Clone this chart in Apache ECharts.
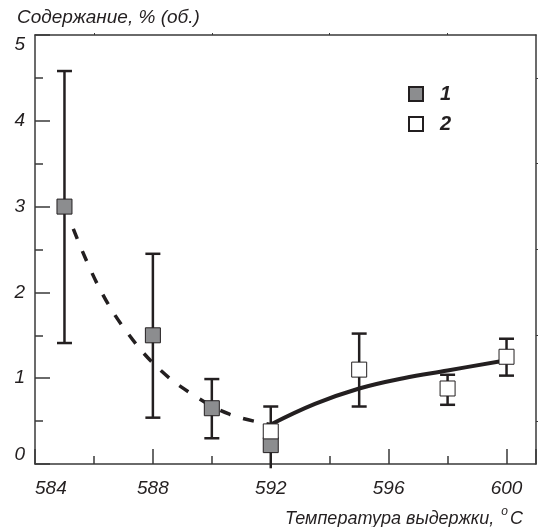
<!DOCTYPE html>
<html>
<head>
<meta charset="utf-8">
<script src="https://cdn.jsdelivr.net/npm/echarts@6/dist/echarts.min.js"></script>
<style>
    html, body { margin: 0; padding: 0; background: #fff; }
    #chart { width: 541px; height: 527px; }
</style>
</head>
<body>
<div id="chart"></div>
<script>
// series 1 (grey squares)
const temp1 = [585, 588, 590, 592]
const val1 = [3.0, 1.5, 0.65, 0.22]
const low1 = [1.41, 0.54, 0.30, null]
const high1 = [4.58, 2.45, 0.99, null]
// series 2 (open squares)
const temp2 = [592, 595, 598, 600]
const val2 = [0.38, 1.10, 0.88, 1.25]
const low2 = [-0.05, 0.67, 0.69, 1.03]
const high2 = [0.67, 1.52, 1.04, 1.46]
// fitted curves
const dashCurve = [[585.3, 2.74], [586.2, 2.04], [587.2, 1.50], [588.3, 1.08], [589.4, 0.80], [590.6, 0.58], [592.0, 0.46]]
const solidCurve = [[592.0, 0.46], [593.5, 0.70], [595.0, 0.88], [596.5, 1.00], [598.0, 1.09], [600.0, 1.21]]
const xTickLabels = [584, 588, 592, 596, 600]

const ink = '#231f20'
const axisColor = '#3a3a3a'
const font = '"Liberation Sans", Arial, sans-serif'

function pairs (xs, ys) {
    return xs.map((x, i) => [x, ys[i]])
}
function errData (xs, lo, hi) {
    let out = []
    xs.forEach((x, i) => {
        if (lo[i] !== null) out.push([x, lo[i], hi[i]])
    })
    return out
}
function renderErr (params, api) {
    const x = api.value(0)
    const lo = api.value(1)
    const hi = api.value(2)
    const top = api.coord([x, hi])
    const bot = api.coord([x, lo])
    const half = 7.5
    const style = { stroke: ink, lineWidth: 2.5 }
    let children = [
        { type: 'line', shape: { x1: top[0], y1: top[1], x2: bot[0], y2: bot[1] }, style: style },
        { type: 'line', shape: { x1: top[0] - half, y1: top[1], x2: top[0] + half, y2: top[1] }, style: style }
    ]
    if (lo >= 0) {
        children.push({ type: 'line', shape: { x1: bot[0] - half, y1: bot[1], x2: bot[0] + half, y2: bot[1] }, style: style })
    }
    return { type: 'group', children: children }
}

const chart = echarts.init(document.getElementById('chart'))
const labelStyle = { fontFamily: font, fontStyle: 'italic', fontSize: 19, color: ink }
const xBase = { type: 'value', min: 584, max: 601, splitLine: { show: false } }

chart.setOption({
    animation: false,
    title: [
        {
            text: 'Содержание, % (об.)',
            left: 12, top: 3,
            textStyle: { fontFamily: font, fontStyle: 'italic', fontWeight: 'normal', fontSize: 19, color: ink }
        },
        {
            text: 'Температура выдержки, {sup|o}C',
            right: 13, top: 501,
            textStyle: {
                fontFamily: font, fontStyle: 'italic', fontWeight: 'normal', fontSize: 18, color: ink,
                rich: { sup: { fontFamily: font, fontStyle: 'italic', fontSize: 12, color: ink, padding: [0, 2, 13, 2] } }
            }
        }
    ],
    legend: {
        data: ['1', '2'],
        orient: 'vertical',
        left: 403, top: 79,
        itemWidth: 14, itemHeight: 14,
        itemGap: 10,
        icon: 'rect',
        textStyle: { fontFamily: font, fontStyle: 'italic', fontWeight: 'bold', fontSize: 20, color: ink, padding: [0, 0, 0, 12] }
    },
    grid: { left: 35, right: 5, top: 35, bottom: 63 },
    xAxis: [
        Object.assign({}, xBase, {
            position: 'bottom',
            interval: 2,
            axisLine: { lineStyle: { color: axisColor, width: 1.5 } },
            axisTick: { inside: true, length: 8, lineStyle: { color: axisColor, width: 1.5 } },
            axisLabel: Object.assign({}, labelStyle, {
                margin: 15,
                alignMinLabel: 'left',
                formatter: v => xTickLabels.indexOf(v) >= 0 ? String(v) : ''
            })
        }),
        Object.assign({}, xBase, {
            position: 'bottom',
            interval: 4,
            axisLine: { show: false },
            axisTick: { inside: true, length: 15, lineStyle: { color: axisColor, width: 1.5 } },
            axisLabel: { show: false }
        }),
        Object.assign({}, xBase, {
            position: 'top',
            interval: 4,
            axisLine: { lineStyle: { color: axisColor, width: 1.5 } },
            axisTick: { show: false },
            minorTick: { show: true, splitNumber: 2, length: 2, lineStyle: { color: axisColor, width: 1 } },
            axisLabel: { show: false }
        })
    ],
    yAxis: [
        {
            type: 'value', min: 0, max: 5, interval: 1,
            position: 'left',
            splitLine: { show: false },
            axisLine: { show: true, lineStyle: { color: axisColor, width: 1.5 } },
            axisTick: { show: true, inside: true, length: 15, lineStyle: { color: axisColor, width: 1.5 } },
            minorTick: { show: true, splitNumber: 2, length: 8, lineStyle: { color: axisColor, width: 1.5 } },
            axisLabel: Object.assign({}, labelStyle, {
                margin: 10,
                verticalAlignMaxLabel: 'top',
                verticalAlignMinLabel: 'bottom'
            })
        },
        {
            type: 'value', min: 0, max: 5, interval: 1,
            position: 'right',
            splitLine: { show: false },
            axisLine: { show: true, lineStyle: { color: axisColor, width: 1.5 } },
            axisTick: { show: false },
            minorTick: { show: true, splitNumber: 2, length: 2, lineStyle: { color: axisColor, width: 1 } },
            axisLabel: { show: false }
        }
    ],
    series: [
        {
            name: 'err1', type: 'custom', renderItem: renderErr,
            encode: { x: 0, y: [1, 2] }, z: 1,
            data: errData(temp1, low1, high1)
        },
        {
            name: 'err2', type: 'custom', renderItem: renderErr,
            encode: { x: 0, y: [1, 2] }, z: 1,
            data: errData(temp2, low2, high2)
        },
        {
            name: 'fit1', type: 'line', smooth: 0.4, showSymbol: false, z: 2,
            lineStyle: { color: ink, width: 3.5, type: [11, 13] },
            data: dashCurve
        },
        {
            name: 'fit2', type: 'line', smooth: 0.4, showSymbol: false, z: 2,
            lineStyle: { color: ink, width: 4 },
            data: solidCurve
        },
        {
            name: '1', type: 'scatter', symbol: 'rect', symbolSize: 15, z: 3,
            itemStyle: { color: '#8c8d8f', borderColor: ink, borderWidth: 1, opacity: 1 },
            data: pairs(temp1, val1)
        },
        {
            name: '2', type: 'scatter', symbol: 'rect', symbolSize: 15, z: 4,
            itemStyle: { color: '#ffffff', borderColor: ink, borderWidth: 1, opacity: 1 },
            data: pairs(temp2, val2)
        }
    ]
})
</script>
</body>
</html>
